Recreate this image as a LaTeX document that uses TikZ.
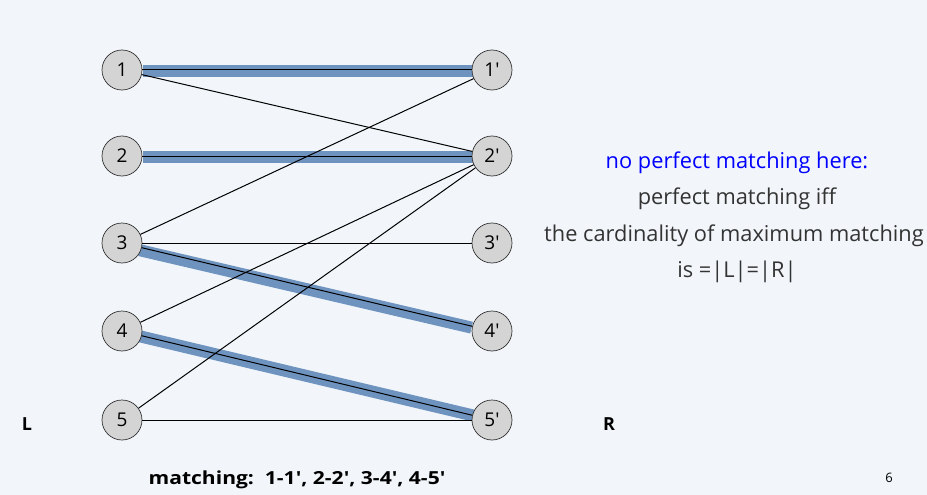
\documentclass[tikz,border=0pt]{standalone}
\usepackage{fontspec}
\setmainfont{Open Sans}
\usetikzlibrary{calc}
\begin{document}
\begin{tikzpicture}[x=1pt,y=-1pt,
  vtx/.style={circle,draw=black!80,fill=black!17,line width=0.7pt,minimum size=40pt,inner sep=0pt,font=\fontsize{19}{21}\selectfont},
  edge/.style={line width=1pt,black},
  hilite/.style={line width=12pt,color=hl},
  txt/.style={font=\fontsize{21.8}{24}\selectfont,text=black!80},
  lab/.style={font=\bfseries\fontsize{18}{20}\selectfont}]
\definecolor{bg}{HTML}{F2F6FA}
\definecolor{hl}{HTML}{6F93BF}
\fill[bg] (0,0) rectangle (927,495);
\useasboundingbox (0,0) rectangle (927,495);
\foreach \i/\y in {1/70,2/156,3/243,4/331,5/420}{
  \coordinate (pl\i) at (122,\y);
  \coordinate (pr\i) at (492,\y);
}
% highlights
\draw[hilite] ([xshift=21pt,yshift=-1pt]pl1) -- ([xshift=-19pt,yshift=-1pt]pr1);
\draw[hilite] ([xshift=21pt,yshift=-1pt]pl2) -- ([xshift=-19pt,yshift=-1pt]pr2);
\draw[hilite] ($(pl3)!18pt!(pr4)+(0,3)$) -- ($(pr4)!21pt!(pl3)+(0,1.5)$);
\draw[hilite] ($(pl4)!18pt!(pr5)+(0,1)$) -- ($(pr5)!14pt!(pl4)+(0,0)$);
\foreach \i in {1,...,5}{
  \node[vtx] (l\i) at (pl\i) {\i};
  \node[vtx] (r\i) at (pr\i) {\i\textquotesingle};
}
\draw[edge] (l1) -- (r1);
\draw[edge] (l1) -- (r2);
\draw[edge] (l2) -- (r2);
\draw[edge] (l3) -- (r1);
\draw[edge] (l3) -- (r3);
\draw[edge] (l3) -- (r4);
\draw[edge] (l4) -- (r2);
\draw[edge] (l4) -- (r5);
\draw[edge] (l5) -- (r2);
\draw[edge] (l5) -- (r5);
\node[lab] (L) at (27,424) {L};
\node[lab] (R) at (609,424) {R};
\node[lab] (m) at (297,480) {\scalebox{1.17}[1]{matching:\ \ 1-1\textquotesingle, 2-2\textquotesingle, 3-4\textquotesingle, 4-5\textquotesingle}};
\node[font=\fontsize{13}{15}\selectfont] (pg) at (889,478) {6};
\node[txt,text=blue] (t1) at (737,163) {no perfect matching here:};
\node[txt] (t2) at (737,199) {perfect matching iff};
\node[txt] (t3) at (734,236) {the cardinality of maximum matching};
\node[txt] (t4) at (737,272) {is =|L|=|R|};
\end{tikzpicture}
\end{document}
